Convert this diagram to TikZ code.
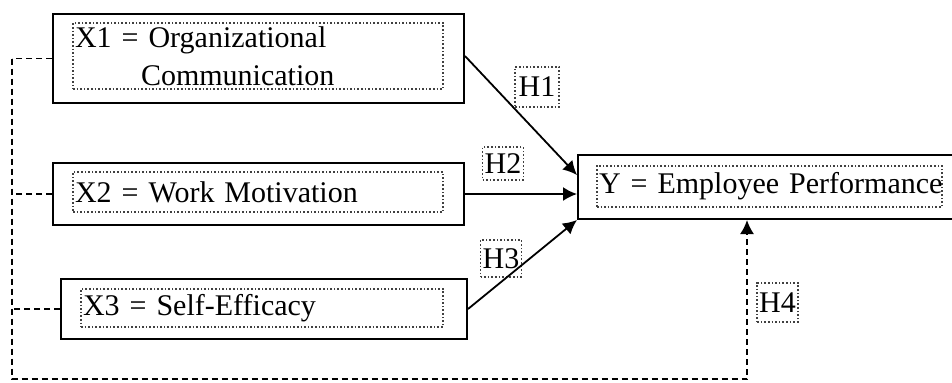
\documentclass[tikz,border=0pt]{standalone}
\usepackage{fontspec}
\setmainfont{Liberation Serif}
\usetikzlibrary{arrows.meta}

\begin{document}
\begin{tikzpicture}[x=0.5pt,y=-0.5pt,
    outer/.style={draw,line width=1pt,minimum width=205.5pt,inner sep=0pt},
    inner/.style={draw=black!75,densely dotted,line width=0.8pt,inner xsep=1pt,inner ysep=0pt,align=left,font=\fontsize{15}{19}\selectfont},
    hyp/.style={draw=black!75,densely dotted,line width=0.8pt,inner sep=1pt,font=\fontsize{15}{19}\selectfont},
    link/.style={line width=0.9pt,-{Latex[length=7pt,width=7pt]}},
    cov/.style={line width=0.9pt,dash pattern=on 3pt off 2pt}]
    \useasboundingbox (0,0) rectangle (952,382);
    % variables
    \node[outer,minimum height=44.5pt] (x1) at (258.5,58.5) {};
    \node[inner,text width=183pt,minimum height=33pt] (x1t) at (258,56) {X1 = Organizational\\\hspace*{33pt}Communication};
    \node[outer,minimum height=31pt] (x2) at (258.5,194) {};
    \node[inner,text width=183pt,minimum height=20pt] (x2t) at (258,192) {X2 = Work Motivation};
    \node[outer,minimum width=203pt,minimum height=30pt] (x3) at (264,309) {};
    \node[inner,text width=179pt,minimum height=19pt] (x3t) at (262,308) {X3 = Self-Efficacy};
    \node[outer,minimum width=189pt,minimum height=32pt] (y) at (767,187) {};
    \node[inner,text width=170.5pt,minimum height=20.5pt] (yt) at (769.5,186.5) {\mbox{Y = Employee Performance}};
    % hypotheses
    \node[hyp,minimum width=22pt,minimum height=20pt] (h1) at (537,87) {H1};
    \node[hyp,minimum width=20pt,minimum height=16.5pt] (h2) at (503,163.5) {H2};
    \node[hyp,minimum width=19pt,minimum height=18.5pt] (h3) at (501,258.5) {H3};
    \node[hyp,minimum width=19.5pt,minimum height=19.5pt] (h4) at (777.5,302.5) {H4};
    % partial effects
    \draw[link] ([yshift=1.25pt]x1.east) -- ([yshift=6pt]y.west);
    \draw[link] (x2.east) -- (x2.east -| y.west);
    \draw[link] (x3.east) -- (y.south west);
    % simultaneous effect
    \coordinate (rail) at (12,379);
    \draw[cov] (x1.west) -- (x1.west -| rail);
    \draw[cov] (x2.west) -- (x2.west -| rail);
    \draw[cov] (x3.west) -- (x3.west -| rail);
    \draw[cov,-{Latex[length=7pt,width=7pt]}] (x1.west -| rail) -- (rail) -| ([xshift=-10pt]y.south);
\end{tikzpicture}
\end{document}
